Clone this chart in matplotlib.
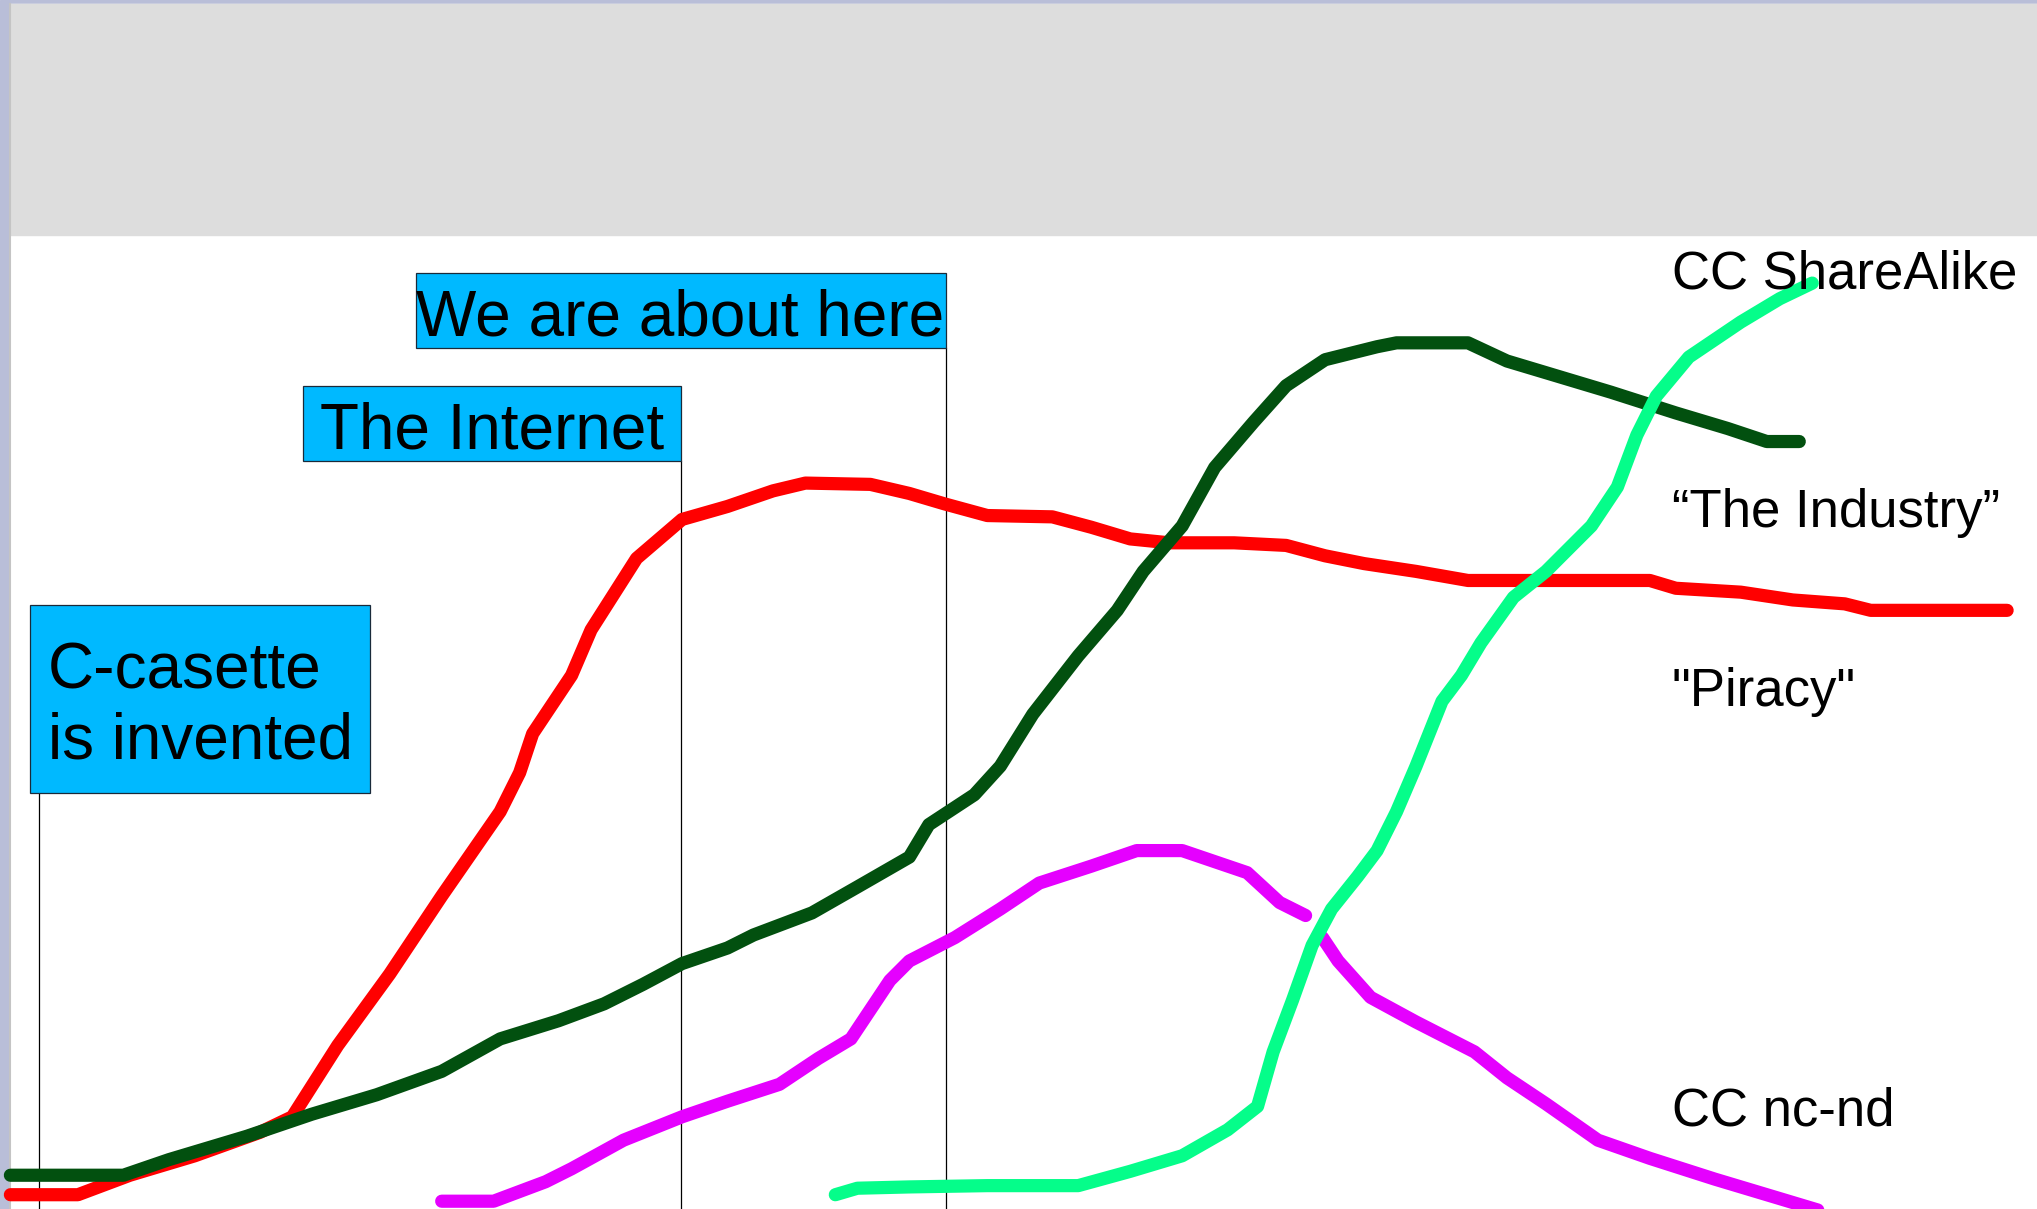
import matplotlib.pyplot as plt
from matplotlib.patches import Rectangle

plt.rcParams['font.family'] = ['Liberation Sans', 'DejaVu Sans']

# curves (x to the right, y downward, in picture units)
red_x = [8, 60, 100, 150, 200, 225, 260, 300, 340, 385, 400, 410, 440, 455, 490, 525, 560, 595, 620, 670,
         700, 727, 760, 810, 840, 870, 900, 950, 990, 1020, 1050, 1090, 1130, 1170, 1270, 1290, 1340, 1380,
         1420, 1440, 1545]
red_y = [920, 920, 905, 890, 872, 860, 805, 750, 690, 625, 595, 565, 520, 485, 430, 400, 390, 378, 372, 373,
         380, 388, 397, 398, 406, 415, 418, 418, 420, 428, 434, 440, 447, 447, 447, 453, 456, 462,
         465, 470, 470]

dkgreen_x = [8, 95, 130, 190, 240, 290, 340, 385, 430, 465, 495, 525, 560, 580, 625, 660, 700, 715, 750, 770,
             795, 830, 860, 880, 910, 935, 965, 990, 1020, 1060, 1075, 1130, 1160, 1200, 1240, 1290, 1330,
             1360, 1385]
dkgreen_y = [905, 905, 893, 875, 858, 843, 825, 800, 786, 773, 758, 742, 730, 720, 703, 683, 660, 635, 612, 590,
             550, 505, 470, 440, 405, 360, 325, 297, 277, 267, 264, 264, 278, 290, 302, 318, 330,
             340, 340]

magenta1_x = [340, 380, 420, 440, 480, 525, 560, 600, 630, 655, 685, 700, 735, 770, 800, 840, 875, 910, 960,
              985, 1005]
magenta1_y = [925, 925, 910, 900, 878, 860, 848, 835, 815, 800, 755, 740, 722, 700, 680, 667, 655, 655, 672,
              695, 705]
magenta2_x = [1018, 1030, 1055, 1090, 1135, 1160, 1190, 1230, 1270, 1320, 1360, 1400]
magenta2_y = [722, 740, 768, 787, 810, 830, 850, 878, 892, 908, 920, 932]

ltgreen_x = [643, 660, 700, 760, 830, 870, 910, 945, 968, 980, 995, 1010, 1025, 1045, 1060, 1075, 1090, 1110,
             1125, 1140, 1165, 1190, 1225, 1245, 1260, 1275, 1300, 1340, 1370, 1395]
ltgreen_y = [920, 915, 914, 913, 913, 902, 890, 870, 852, 810, 770, 728, 700, 675, 655, 625, 590, 540,
             520, 495, 460, 440, 405, 375, 335, 305, 275, 248, 230, 218]

curve_labels = ['CC ShareAlike', '\u201cThe Industry\u201d', '"Piracy"', 'CC nc-nd']
event_labels = ['C-casette\nis invented', 'The Internet', 'We are about here']

fig = plt.figure(figsize=(20.37, 12.09), dpi=100)
ax = fig.add_axes([0, 0, 1, 1])
ax.set_xlim(0, 1568)
ax.set_ylim(931, 0)
ax.axis('off')

# window frame / grey header
ax.add_patch(Rectangle((0, 0), 1568, 931, color='#b9bed8', zorder=0))
ax.add_patch(Rectangle((8, 3), 1560, 928, color='white', zorder=0.1))
ax.add_patch(Rectangle((8, 3), 1560, 178, color='#dddddd', zorder=0.2))
ax.plot([8, 8], [3, 931], color='#c4c4c4', lw=1.5, zorder=0.3)

lw = 9.5
ax.plot(red_x, red_y, color='#ff0000', lw=lw, solid_capstyle='round', solid_joinstyle='round', zorder=2)
ax.plot(dkgreen_x, dkgreen_y, color='#02500f', lw=lw, solid_capstyle='round', solid_joinstyle='round', zorder=2)
ax.plot(magenta1_x, magenta1_y, color='#e500ff', lw=lw, solid_capstyle='round', solid_joinstyle='round', zorder=2)
ax.plot(magenta2_x, magenta2_y, color='#e500ff', lw=lw, solid_capstyle='round', solid_joinstyle='round', zorder=2)
ax.plot(ltgreen_x, ltgreen_y, color='#05fd8a', lw=lw, solid_capstyle='round', solid_joinstyle='round', zorder=3)

# event markers: box + thin vertical line
boxcol = '#00b9ff'
ax.plot([30, 30], [611, 931], color='black', lw=0.9, zorder=1)
ax.plot([524, 524], [355, 931], color='black', lw=0.9, zorder=1)
ax.plot([728, 728], [268, 931], color='black', lw=0.9, zorder=1)

ax.add_patch(Rectangle((23, 466), 262, 145, facecolor=boxcol, edgecolor='#1a2a3a', lw=0.9, zorder=4))
ax.add_patch(Rectangle((233, 297), 291, 58, facecolor=boxcol, edgecolor='#1a2a3a', lw=0.9, zorder=4))
ax.add_patch(Rectangle((320, 210), 408, 58, facecolor=boxcol, edgecolor='#1a2a3a', lw=0.9, zorder=4))

first, second = event_labels[0].split('\n')
ax.text(37, 530, first, fontsize=46, va='baseline', ha='left', zorder=5)
ax.text(37, 584, second, fontsize=46, va='baseline', ha='left', zorder=5)
ax.text(246, 345, event_labels[1], fontsize=46, va='baseline', ha='left', zorder=5)
ax.text(320, 258, event_labels[2], fontsize=46, va='baseline', ha='left', zorder=5)

ax.text(1287, 222, curve_labels[0], fontsize=38, va='baseline', ha='left', zorder=5)
ax.text(1287, 406, curve_labels[1], fontsize=38, va='baseline', ha='left', zorder=5)
ax.text(1287, 544, curve_labels[2], fontsize=38, va='baseline', ha='left', zorder=5)
ax.text(1287, 867, curve_labels[3], fontsize=38, va='baseline', ha='left', zorder=5)

fig.savefig('out.png', dpi=100)
